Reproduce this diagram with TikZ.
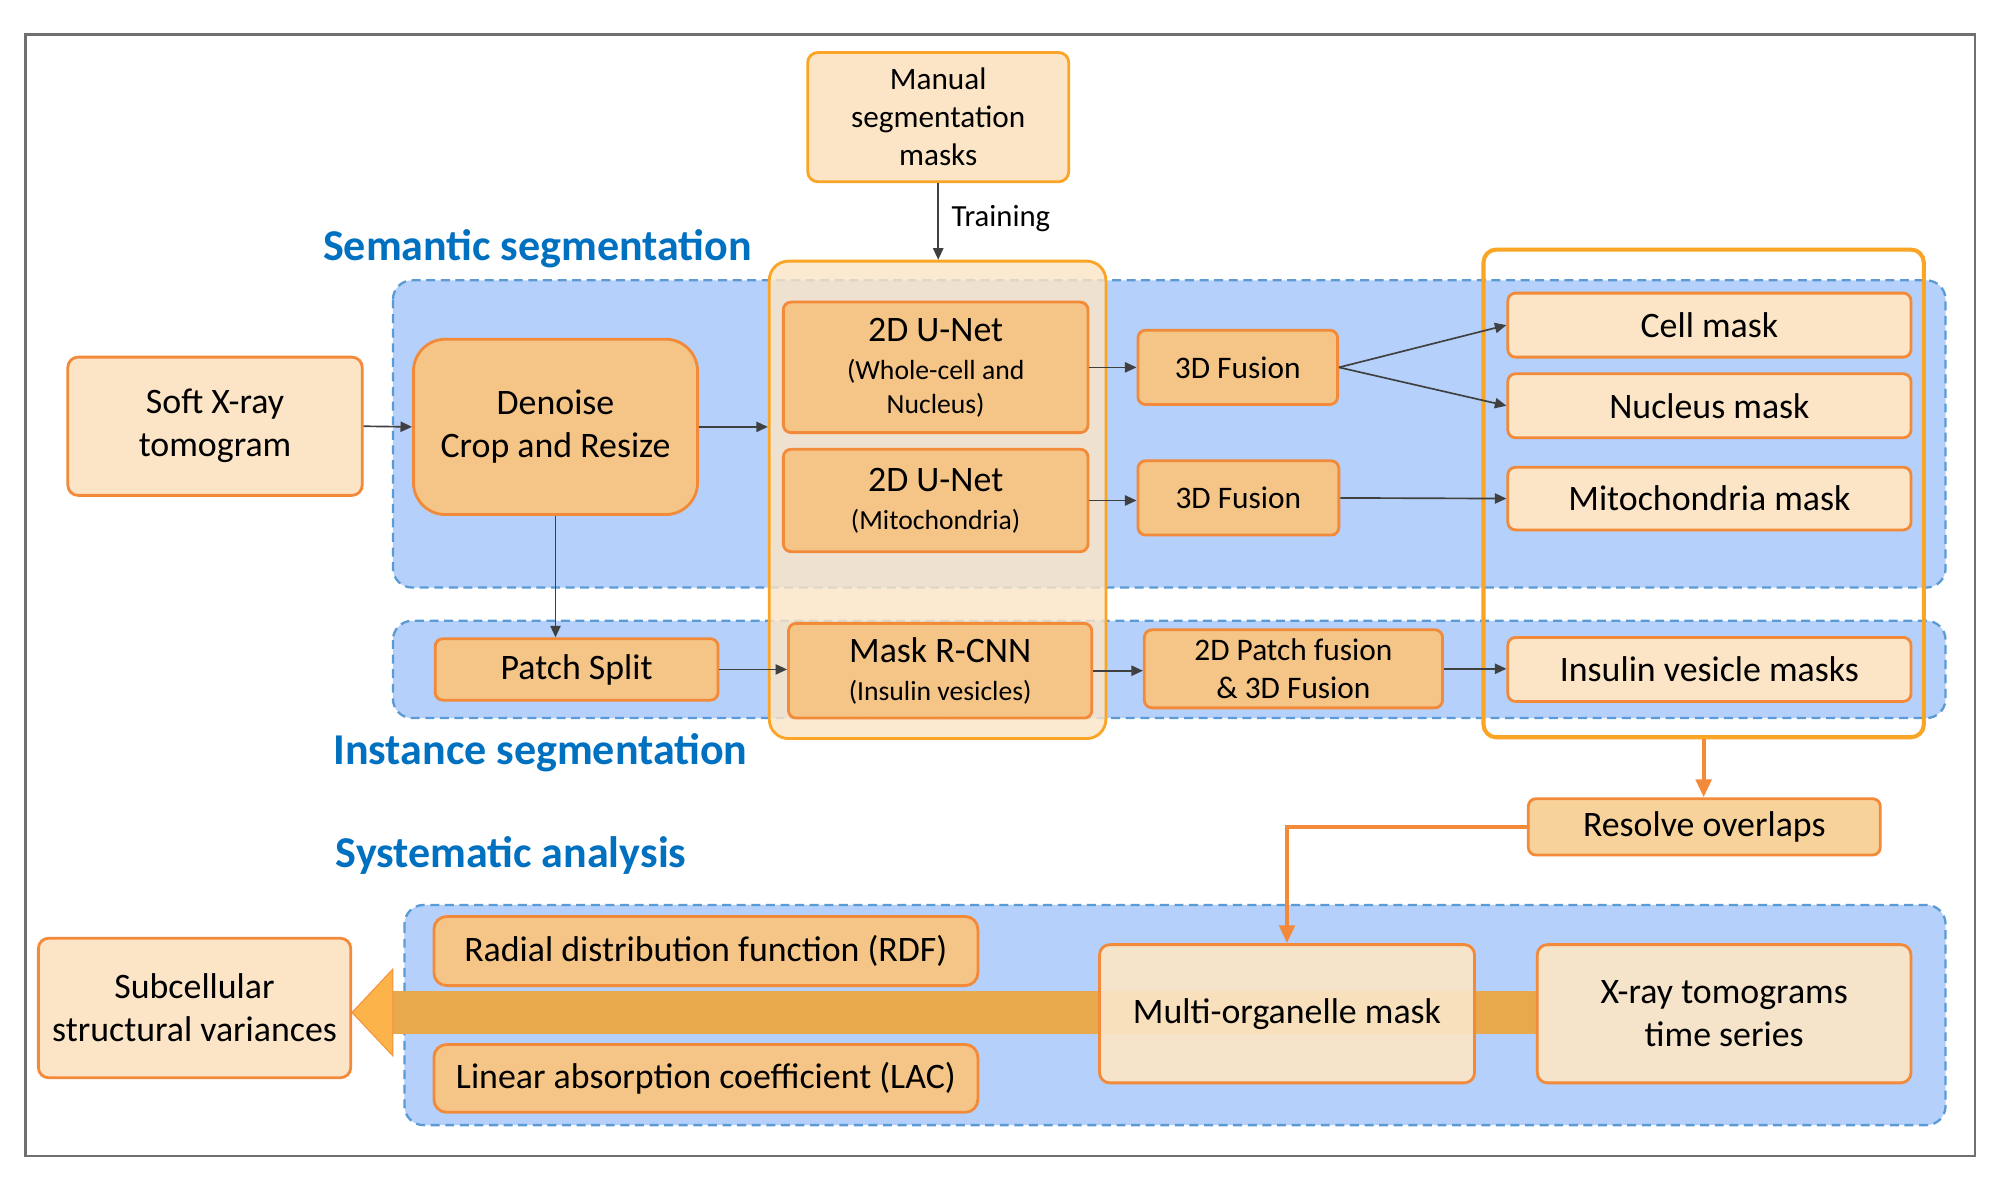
\documentclass[tikz,border=0pt]{standalone}
\usepackage{fontspec}
\setmainfont{Carlito}
\usetikzlibrary{arrows.meta}
\definecolor{peach}{HTML}{FBE5C6}
\definecolor{tan}{HTML}{F4C586}
\definecolor{resfill}{HTML}{F7D39B}
\definecolor{boxorange}{HTML}{F28A3A}
\definecolor{brightorange}{HTML}{FAA526}
\definecolor{bluefill}{HTML}{B4D0FB}
\definecolor{bluedash}{HTML}{5B9BD5}
\definecolor{headblue}{HTML}{0070C0}
\definecolor{linegray}{HTML}{404040}
\definecolor{bandorange}{HTML}{E8A94C}
\definecolor{headorange}{HTML}{FCB34A}
\definecolor{framegray}{HTML}{707070}
\newcommand\myparenfont{\fontsize{10.8}{13}\selectfont}
\tikzset{
  every node/.style={font=\fontsize{14}{16.8}\selectfont, text=black},
  pbox/.style={draw=boxorange, line width=1.1pt, fill=peach, rounded corners=3pt, inner sep=0pt, align=center},
  tbox/.style={pbox, fill=tan},
  small/.style={font=\fontsize{12.25}{14.7}\selectfont},
  conn/.style={draw=linegray, line width=0.65pt, -{Triangle[length=4.5pt,width=4pt]}},
  oconn/.style={draw=boxorange, line width=1.6pt, -{Triangle[length=7pt,width=6pt]}},
  region/.style={fill=bluefill, draw=bluedash, dash pattern=on 3.5pt off 2.2pt, line width=0.9pt, rounded corners=7.5pt},
  heading/.style={font=\fontsize{17.2}{20}\selectfont\bfseries, text=headblue, anchor=west, inner sep=0pt},
}
\begin{document}
\begin{tikzpicture}[x=0.5pt,y=-0.5pt]
\useasboundingbox (0,0) rectangle (1568,923);
\fill[white] (0,0) rectangle (1568,923);
% frame
\draw[framegray, line width=1pt] (20,27) rectangle (1543,903);

% blue regions
\path[region] (307,219) rectangle (1520,459);
\path[region] (307,485) rectangle (1520,561);
\path[region] (316,707) rectangle (1520,879);

% big translucent box
\node[draw=brightorange, line width=1.1pt, fill=peach, fill opacity=0.82, rounded corners=7.5pt,
      minimum width=131.5pt, minimum height=186.5pt, inner sep=0pt] (bigbox) at (732.5,390.5) {};

% headings
\node[heading] (hsem) at (252,194) {Semantic segmentation};
\node[heading] (hins) at (260,588) {Instance segmentation};
\node[heading] (hsys) at (262,668) {Systematic analysis};

% top
\node[pbox, draw=brightorange, rounded corners=4pt, minimum width=102pt, minimum height=50.5pt,
      font=\fontsize{12.2}{14.8}\selectfont] (manual) at (733,91.5) {Manual\\segmentation\\masks};

% left column
\node[pbox, rounded corners=4pt, minimum width=115pt, minimum height=54pt] (soft) at (168,333) {Soft X-ray\\tomogram};
\node[tbox, rounded corners=12.5pt, minimum width=111pt, minimum height=68.5pt] (denoise) at (434,333.5) {Denoise\\Crop and Resize};
\node[tbox, minimum width=110.5pt, minimum height=24pt] (patch) at (450.5,523) {Patch Split};

% networks
\node[tbox, minimum width=119pt, minimum height=51pt] (unet1) at (731,287)
  {2D U-Net\\[-2pt]{\myparenfont (Whole-cell and}\\[-3.5pt]{\myparenfont Nucleus)}};
\node[tbox, minimum width=119pt, minimum height=40pt] (unet2) at (731,391)
  {2D U-Net\\[-2pt]{\myparenfont (Mitochondria)}};
\node[tbox, minimum width=118.5pt, minimum height=37pt] (mrcnn) at (734.5,524)
  {Mask R-CNN\\[-2pt]{\myparenfont (Insulin vesicles)}};

% fusions
\node[tbox, small, minimum width=78pt, minimum height=29pt] (fus1) at (967,287) {3D Fusion};
\node[tbox, small, minimum width=78.5pt, minimum height=29pt] (fus2) at (967.5,389) {3D Fusion};
\node[tbox, small, minimum width=116.5pt, minimum height=30.5pt] (pfus) at (1010.5,522.5) {2D Patch fusion\\\& 3D Fusion};

% masks
\node[pbox, minimum width=157.5pt, minimum height=25pt] (cell) at (1335.5,254) {Cell mask};
\node[pbox, minimum width=157.5pt, minimum height=25pt] (nuc) at (1335.5,317) {Nucleus mask};
\node[pbox, minimum width=157.5pt, minimum height=24.5pt] (mito) at (1335.5,389.5) {Mitochondria mask};
\node[pbox, minimum width=157.5pt, minimum height=25pt] (ins) at (1335.5,523) {Insulin vesicle masks};

% right frame
\node[draw=brightorange, line width=1.6pt, rounded corners=5pt, minimum width=172pt, minimum height=190.5pt, inner sep=0pt] (rframe) at (1331,385.5) {};

% resolve
\node[pbox, fill=resfill, minimum width=137.5pt, minimum height=22pt] (resolve) at (1331.5,646) {Resolve overlaps};

% fat arrow
\fill[bandorange] (307,774) rectangle (1201,808);
\filldraw[fill=headorange, draw=boxorange!80!headorange, line width=0.4pt] (275,791) -- (307,757) -- (307,825) -- cycle;

% analysis
\node[tbox, rounded corners=5pt, minimum width=212.5pt, minimum height=27pt] (rdf) at (551.5,743) {Radial distribution function (RDF)};
\node[tbox, rounded corners=5pt, minimum width=212.5pt, minimum height=26.5pt] (lac) at (551.5,842.5) {Linear absorption coefficient (LAC)};
\node[pbox, rounded corners=4pt, fill opacity=0.92, text opacity=1, minimum width=146.5pt, minimum height=54pt] (multi) at (1005.5,792) {Multi-organelle mask};
\node[pbox, rounded corners=4pt, fill opacity=0.92, text opacity=1, minimum width=146pt, minimum height=54pt] (xray) at (1347,792) {X-ray tomograms\\time series};
\node[pbox, rounded corners=4pt, minimum width=122pt, minimum height=54.5pt] (subc) at (152,787.5) {Subcellular\\structural variances};

% connectors
\draw[conn] (manual.south) -- (manual.south |- bigbox.north);
\node[anchor=west, font=\fontsize{12}{14}\selectfont, inner sep=0pt] (train) at (743,171) {Training};
\draw[conn] (soft.east) -- (denoise.west);
\draw[conn] (denoise.east) -- (denoise.east -| bigbox.west);
\draw[conn] (denoise.south) -- (denoise.south |- patch.north);
\draw[conn] (patch.east) -- (patch.east -| mrcnn.west);
\draw[conn] (unet1.east) -- (fus1.west);
\draw[conn] (unet2.east) -- (unet2.east -| fus2.west);
\draw[conn] (mrcnn.east) -- (mrcnn.east -| pfus.west);
\draw[conn] (fus1.east) -- (cell.west);
\draw[conn] (fus1.east) -- (nuc.west);
\draw[conn] (fus2.east) -- (mito.west);
\draw[conn] (pfus.east) -- (pfus.east -| ins.west);

\draw[oconn] (rframe.south) -- (rframe.south |- resolve.north);
\draw[oconn] (resolve.west) -| (multi.north);
\end{tikzpicture}
\end{document}
